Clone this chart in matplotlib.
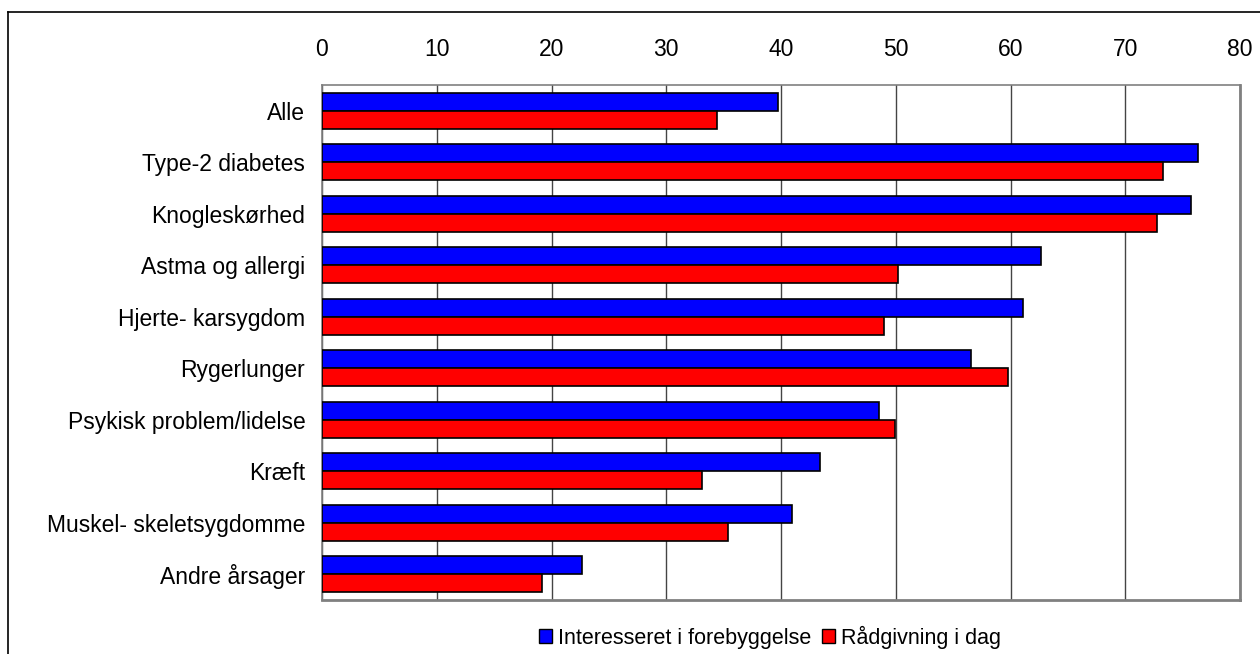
import matplotlib
matplotlib.use("Agg")
import matplotlib.pyplot as plt
from matplotlib.lines import Line2D
from matplotlib.patches import Patch

categories = ["Alle", "Type-2 diabetes", "Knogleskørhed", "Astma og allergi",
              "Hjerte- karsygdom", "Rygerlunger", "Psykisk problem/lidelse",
              "Kræft", "Muskel- skeletsygdomme", "Andre årsager"]
interesseret = [39.7, 76.3, 75.7, 62.7, 61.1, 56.6, 48.5, 43.4, 41.0, 22.7]
raadgivning = [34.4, 73.3, 72.8, 50.2, 49.0, 59.8, 49.9, 33.1, 35.4, 19.2]
series_names = ["Interesseret i forebyggelse", "Rådgivning i dag"]
xticks = [0, 10, 20, 30, 40, 50, 60, 70, 80]

W, H = 1260, 654
fig = plt.figure(figsize=(W / 100, H / 100), dpi=100)
plt.rcParams['font.family'] = ['Liberation Sans', 'DejaVu Sans']
FS = 16.5

# outer chart frame (only top and left visible)
fig.add_artist(Line2D([8 / W, 8 / W], [0, 1 - 12 / H], transform=fig.transFigure,
                      color='black', lw=1.2))
fig.add_artist(Line2D([8 / W, 1], [1 - 12 / H, 1 - 12 / H], transform=fig.transFigure,
                      color='black', lw=1.2))

left, right, top, bottom = 322 / W, 1240 / W, 1 - 85 / H, 1 - 600 / H
ax = fig.add_axes([left, bottom, right - left, top - bottom])

h = 0.35
ys = list(range(len(categories)))
ax.barh([y - h / 2 for y in ys], interesseret, height=h, color='#0000FF',
        edgecolor='black', linewidth=1.2, zorder=3, label=series_names[0])
ax.barh([y + h / 2 for y in ys], raadgivning, height=h, color='#FF0000',
        edgecolor='black', linewidth=1.2, zorder=3, label=series_names[1])

ax.set_xlim(0, 80)
ax.set_ylim(len(categories) - 0.5, -0.5)
ax.set_xticks(xticks)
ax.set_xticklabels([str(t) for t in xticks])
ax.xaxis.tick_top()
ax.tick_params(axis='x', length=0, pad=17, labelsize=FS)
ax.tick_params(axis='y', length=0, pad=12, labelsize=FS)
ax.set_yticks(ys)
ax.set_yticklabels(categories)
ax.grid(axis='x', color='#444444', linewidth=1.0, zorder=0)
ax.set_axisbelow(True)
for side in ['top', 'left']:
    ax.spines[side].set_color('#808080')
    ax.spines[side].set_linewidth(1.2)
for side in ['right', 'bottom']:
    ax.spines[side].set_color('#808080')
    ax.spines[side].set_linewidth(2.0)

handles = [Patch(facecolor='#0000FF', edgecolor='black', linewidth=1),
           Patch(facecolor='#FF0000', edgecolor='black', linewidth=1)]
fig.legend(handles, series_names, loc='center', bbox_to_anchor=(770 / W, 1 - 637 / H),
           ncol=2, frameon=False, fontsize=15.5, handlelength=0.6, handleheight=0.6,
           handletextpad=0.3, columnspacing=0.5)

fig.savefig("out.png", dpi=100)
